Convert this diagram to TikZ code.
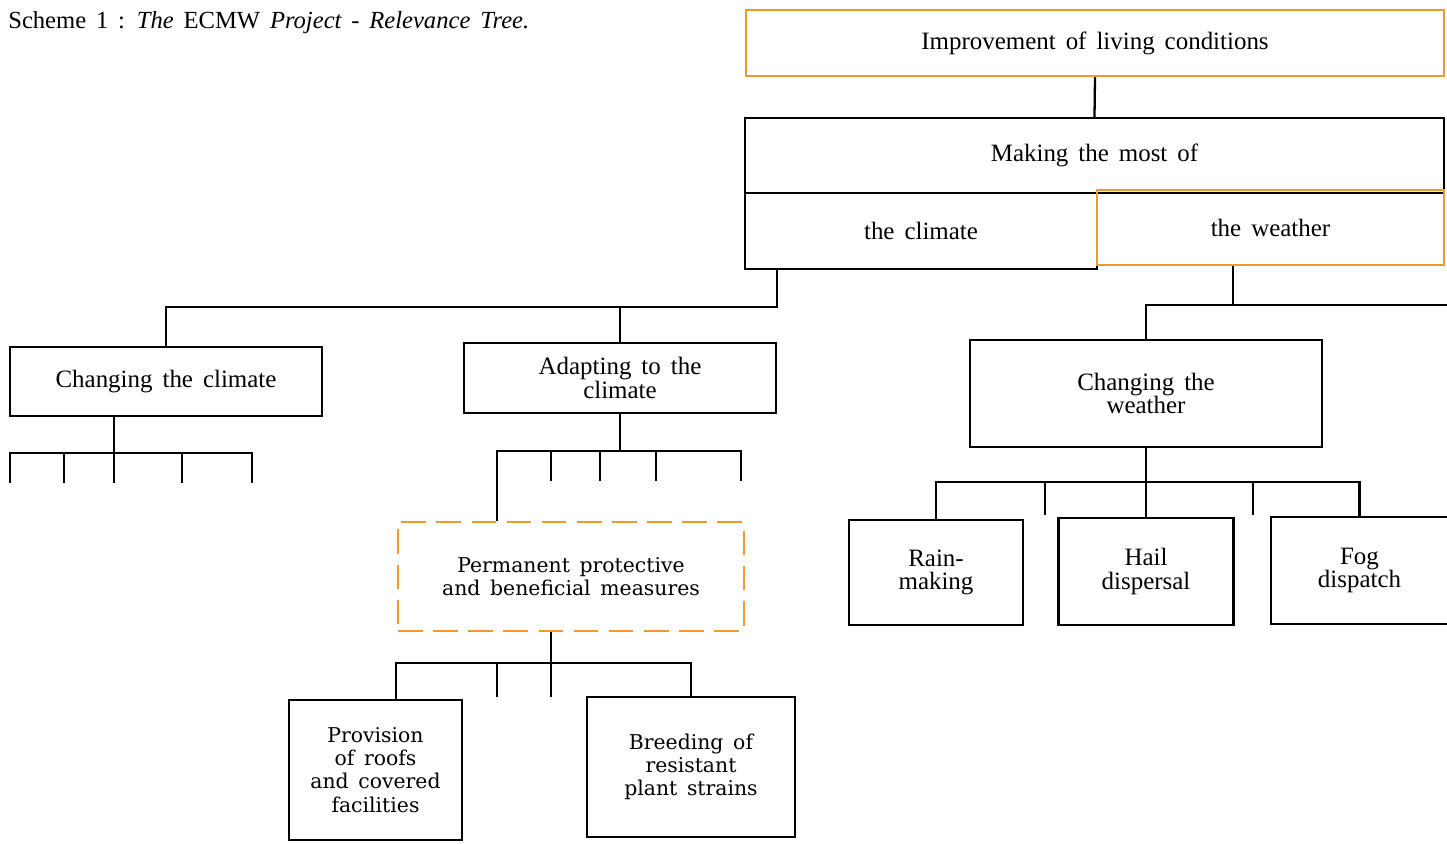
\documentclass[tikz,border=0pt]{standalone}
\usepackage{fontspec}
\setmainfont[WordSpace=1.6]{Liberation Serif}
\newfontfamily\lowfont[WordSpace=1.5]{DejaVu Serif}
\definecolor{orng}{RGB}{243,152,45}
\begin{document}
\begin{tikzpicture}[x=0.02cm,y=-0.02cm,
  box/.style={draw=black, line width=1.3pt, align=center, inner sep=0pt, font=\fontsize{14.2}{13.2}\selectfont},
  obox/.style={box, draw=orng, line width=1.4pt},
  lbox/.style={box, font=\lowfont\fontsize{11.6}{13.2}\selectfont},
  dbox/.style={lbox, draw=orng, line width=1.5pt, dash pattern=on 14pt off 6pt},
  wire/.style={line width=1.3pt, line join=miter}]
\useasboundingbox (0,0) rectangle (1447,843);
\fill[white] (0,0) rectangle (1447,843);

\node[anchor=base west, inner sep=0pt, font=\fontsize{14}{16}\selectfont] (title) at (8,28)
  {Scheme 1 : \textit{The} ECMW \textit{Project - Relevance Tree.}};

% top boxes
\node[obox, minimum width=13.96cm, minimum height=1.32cm] (imp) at (1095,43) {\raisebox{3pt}{Improvement of living conditions}};
\node[box, minimum width=13.98cm, minimum height=1.5cm] (most) at (1094.5,155.5) {\raisebox{3pt}{Making the most of}};
\node[box, minimum width=7.04cm, minimum height=1.52cm] (clim) at (921,231) {the climate};
\node[obox, minimum width=6.94cm, minimum height=1.5cm] (weath) at (1270.5,227.5) {the weather};

% climate branch
\node[box, minimum width=6.24cm, minimum height=1.38cm] (chclim) at (166,381.5) {Changing the climate};
\node[box, minimum width=6.24cm, minimum height=1.4cm] (adapt) at (620,378) {Adapting to the\\climate};
\node[dbox, minimum width=6.92cm, minimum height=2.18cm] (perm) at (571,576.5) {Permanent protective\\and beneficial measures};
\node[lbox, minimum width=3.46cm, minimum height=2.8cm] (prov) at (375.5,770) {Provision\\of roofs\\and covered\\facilities};
\node[lbox, minimum width=4.16cm, minimum height=2.8cm] (breed) at (691,767) {Breeding of\\resistant\\plant strains};

% weather branch
\node[box, minimum width=7.04cm, minimum height=2.14cm] (chw) at (1146,393.5) {Changing the\\weather};
\node[box, minimum width=3.48cm, minimum height=2.1cm] (rain) at (936,572.5) {Rain-\\making};
\node[box, minimum width=3.5cm, minimum height=2.14cm] (hail) at (1146,571.5) {Hail\\dispersal};
\node[box, draw=none, minimum width=3.5cm, minimum height=2.1cm] (fog) at (1359.5,570.5) {Fog\\dispatch};
\draw[wire] (fog.north east) -- (fog.north west) -- (fog.south west) -- (fog.south east);

% connectors
\draw[wire] (imp.south) -- (most.north);

\coordinate (cbus) at (777,307);
\draw[wire] (clim.south -| cbus) -- (cbus) -| (chclim.north);
\draw[wire] (adapt.north) -- (adapt.north |- cbus);

% changing the climate stubs
\coordinate (b1) at (114,453);
\draw[wire] (chclim.south -| b1) -- (b1);
\draw[wire] (10,483) -- (10,453) -- (252,453) -- (252,483);
\foreach \x in {64,114,182} \draw[wire] (\x,453) -- (\x,483);

% adapting stubs
\coordinate (b2) at (620,451);
\draw[wire] (adapt.south) -- (b2);
\draw[wire] (perm.north -| 497,0) -- (497,451) -- (741,451) -- (741,481);
\foreach \x in {551,600,656} \draw[wire] (\x,451) -- (\x,481);

% permanent measures stubs
\coordinate (b3) at (551,663);
\draw[wire] (perm.south -| b3) -- (551,697);
\draw[wire] (prov.north -| 396,0) -- (396,663) -- (691,663) -- (breed.north);
\draw[wire] (497,663) -- (497,697);

% weather
\coordinate (wbus) at (1233,305);
\draw[wire] (weath.south -| wbus) -- (wbus);
\draw[wire] (chw.north) -- (chw.north |- wbus) -- (1447,305);

\draw[wire] (chw.south) -- (hail.north);
\draw[wire] (rain.north) -- (rain.north |- 0,482) -- (fog.north |- 0,482) -- (fog.north);
\foreach \x in {1045,1253} \draw[wire] (\x,482) -- (\x,515);
\end{tikzpicture}
\end{document}
